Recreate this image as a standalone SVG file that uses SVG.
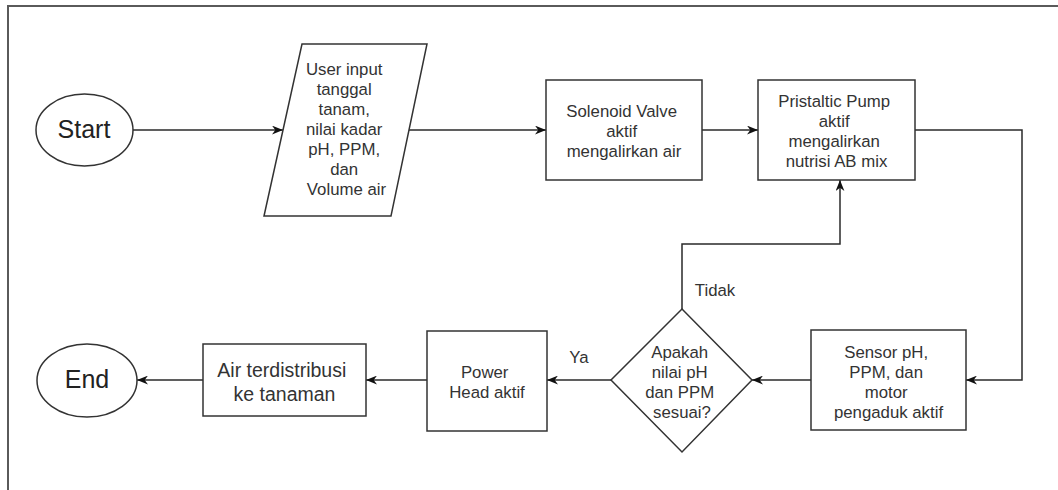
<svg xmlns="http://www.w3.org/2000/svg" width="1058" height="490" viewBox="0 0 1058 490">
  <style>
    .shape { fill: #ffffff; stroke: #333333; stroke-width: 1.5; }
    .edge { fill: none; stroke: #2a2a2a; stroke-width: 1.5; }
    .label { font-family: "Liberation Sans", Arial, sans-serif; font-size: 16.8px; fill: #333333; text-anchor: middle; }
    .big { font-size: 19.5px; }
    .term { font-size: 25px; fill: #222222; }
    .frame { fill: none; stroke: #5a5a5a; stroke-width: 2; }
  </style>
  <defs>
    <marker id="arrow" viewBox="0 0 10 8" refX="10" refY="4" markerWidth="11" markerHeight="9" markerUnits="userSpaceOnUse" orient="auto">
      <path d="M0,0 L10,4 L0,8 L3,4 Z" fill="#111111"/>
    </marker>
  </defs>

  <rect width="1058" height="490" fill="#ffffff"/>
  <!-- page frame (top and left edges only) -->
  <path class="frame" d="M8,490 L8,6 L1058,6"/>

  <g id="connectors">
    <path class="edge" d="M133,130 L283,130" marker-end="url(#arrow)"/>
    <path class="edge" d="M409,130 L546,130" marker-end="url(#arrow)"/>
    <path class="edge" d="M702,130 L758,130" marker-end="url(#arrow)"/>
    <path class="edge" d="M915,130 L1022,130 L1022,380 L966,380" marker-end="url(#arrow)"/>
    <path class="edge" d="M811,380 L752,380" marker-end="url(#arrow)"/>
    <path class="edge" d="M682,309 L682,244 L840,244 L840,180" marker-end="url(#arrow)"/>
    <path class="edge" d="M611,380 L547,380" marker-end="url(#arrow)"/>
    <path class="edge" d="M427,380 L366,380" marker-end="url(#arrow)"/>
    <path class="edge" d="M203,380 L137,380" marker-end="url(#arrow)"/>
    <text class="label" x="715" y="296">Tidak</text>
    <text class="label" x="579" y="363">Ya</text>
  </g>

  <g id="start">
    <ellipse class="shape" cx="84.5" cy="130" rx="48.5" ry="36"/>
    <text class="label term" x="84" y="138">Start</text>
  </g>

  <g id="user-input">
    <polygon class="shape" points="302,44 427,44 391,216 264,216"/>
    <text class="label" x="346.5">
      <tspan x="346.5" y="75">User input</tspan>
      <tspan x="346.5" y="95">tanggal</tspan>
      <tspan x="346.5" y="115">tanam,</tspan>
      <tspan x="346.5" y="135">nilai kadar</tspan>
      <tspan x="346.5" y="155">pH, PPM,</tspan>
      <tspan x="346.5" y="175">dan</tspan>
      <tspan x="346.5" y="195">Volume air</tspan>
    </text>
  </g>

  <g id="solenoid-valve">
    <rect class="shape" x="546" y="80" width="156" height="100"/>
    <text class="label">
      <tspan x="624" y="117">Solenoid Valve</tspan>
      <tspan x="624" y="137">aktif</tspan>
      <tspan x="624" y="157">mengalirkan air</tspan>
    </text>
  </g>

  <g id="pristaltic-pump">
    <rect class="shape" x="758" y="80" width="157" height="100"/>
    <text class="label">
      <tspan x="836.5" y="107">Pristaltic Pump</tspan>
      <tspan x="836.5" y="127">aktif</tspan>
      <tspan x="836.5" y="147">mengalirkan</tspan>
      <tspan x="836.5" y="167">nutrisi AB mix</tspan>
    </text>
  </g>

  <g id="sensor">
    <rect class="shape" x="811" y="330" width="155" height="100"/>
    <text class="label">
      <tspan x="888.5" y="358">Sensor pH,</tspan>
      <tspan x="888.5" y="378">PPM, dan</tspan>
      <tspan x="888.5" y="398">motor</tspan>
      <tspan x="888.5" y="418">pengaduk aktif</tspan>
    </text>
  </g>

  <g id="decision">
    <polygon class="shape" points="682,309 752,380 682,452 611,380"/>
    <text class="label">
      <tspan x="682" y="358">Apakah</tspan>
      <tspan x="682" y="378">nilai pH</tspan>
      <tspan x="682" y="398">dan PPM</tspan>
      <tspan x="682" y="418">sesuai?</tspan>
    </text>
  </g>

  <g id="power-head">
    <rect class="shape" x="427" y="331" width="120" height="100"/>
    <text class="label">
      <tspan x="487" y="378">Power</tspan>
      <tspan x="487" y="398">Head aktif</tspan>
    </text>
  </g>

  <g id="distribution">
    <rect class="shape" x="203" y="344" width="163" height="72"/>
    <text class="label big">
      <tspan x="284.5" y="377">Air terdistribusi</tspan>
      <tspan x="284.5" y="401">ke tanaman</tspan>
    </text>
  </g>

  <g id="end">
    <ellipse class="shape" cx="87" cy="380.5" rx="50" ry="36.5"/>
    <text class="label term" x="87" y="388">End</text>
  </g>
</svg>
